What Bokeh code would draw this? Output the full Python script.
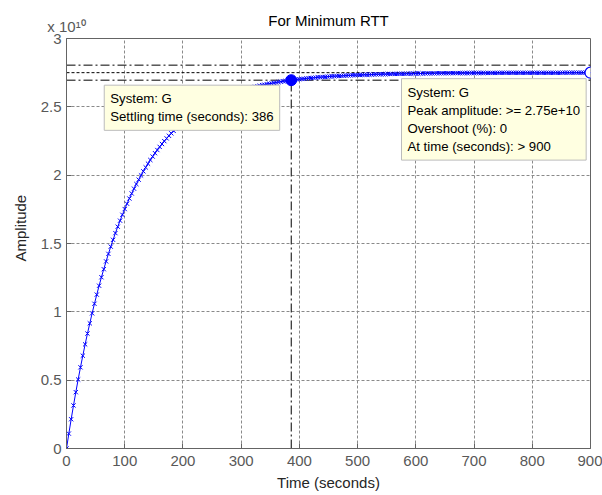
from bokeh.plotting import figure
from bokeh.models import (Range1d, FixedTicker, Span, Label, Title, LinearAxis,
                          CustomJSTickFormatter)
from bokeh.embed import file_html
from bokeh.resources import INLINE

# ---- data (amplitude in units of 1e10) ----
time_s = [
    0, 4, 8, 12, 16, 20, 24, 28, 32, 36, 40, 44, 48, 52, 56, 60, 64, 68, 72, 76,
    80, 84, 88, 92, 96, 100, 104, 108, 112, 116, 120, 124, 128, 132, 136, 140, 144, 148, 152, 156,
    160, 164, 168, 172, 176, 180, 184, 188, 192, 196, 200, 204, 208, 212, 216, 220, 224, 228, 232, 236,
    240, 244, 248, 252, 256, 260, 264, 268, 272, 276, 280, 284, 288, 292, 296, 300, 304, 308, 312, 316,
    320, 324, 328, 332, 336, 340, 344, 348, 352, 356, 360, 364, 368, 372, 376, 380, 384, 388, 392, 396,
    400, 404, 408, 412, 416, 420, 424, 428, 432, 436, 440, 444, 448, 452, 456, 460, 464, 468, 472, 476,
    480, 484, 488, 492, 496, 500, 504, 508, 512, 516, 520, 524, 528, 532, 536, 540, 544, 548, 552, 556,
    560, 564, 568, 572, 576, 580, 584, 588, 592, 596, 600, 604, 608, 612, 616, 620, 624, 628, 632, 636,
    640, 644, 648, 652, 656, 660, 664, 668, 672, 676, 680, 684, 688, 692, 696, 700, 704, 708, 712, 716,
    720, 724, 728, 732, 736, 740, 744, 748, 752, 756, 760, 764, 768, 772, 776, 780, 784, 788, 792, 796,
    800, 804, 808, 812, 816, 820, 824, 828, 832, 836, 840, 844, 848, 852, 856, 860, 864, 868, 872, 876,
    880, 884, 888, 892, 896, 900,
]
amplitude_e10 = [
    0.000, 0.109, 0.214, 0.315, 0.412, 0.505, 0.594, 0.679, 0.762, 0.841,
    0.916, 0.989, 1.059, 1.126, 1.191, 1.253, 1.312, 1.369, 1.424, 1.477,
    1.527, 1.576, 1.623, 1.667, 1.710, 1.752, 1.791, 1.829, 1.866, 1.901,
    1.935, 1.967, 1.998, 2.028, 2.057, 2.084, 2.111, 2.136, 2.161, 2.184,
    2.207, 2.228, 2.249, 2.269, 2.288, 2.306, 2.324, 2.341, 2.357, 2.373,
    2.388, 2.402, 2.416, 2.429, 2.442, 2.454, 2.466, 2.477, 2.488, 2.498,
    2.508, 2.518, 2.527, 2.536, 2.545, 2.553, 2.561, 2.568, 2.575, 2.582,
    2.589, 2.595, 2.601, 2.607, 2.613, 2.618, 2.624, 2.629, 2.634, 2.638,
    2.643, 2.647, 2.651, 2.655, 2.659, 2.662, 2.666, 2.669, 2.672, 2.675,
    2.678, 2.681, 2.684, 2.687, 2.689, 2.692, 2.694, 2.696, 2.698, 2.700,
    2.702, 2.704, 2.706, 2.708, 2.709, 2.711, 2.713, 2.714, 2.716, 2.717,
    2.718, 2.719, 2.721, 2.722, 2.723, 2.724, 2.725, 2.726, 2.727, 2.728,
    2.729, 2.730, 2.730, 2.731, 2.732, 2.733, 2.733, 2.734, 2.735, 2.735,
    2.736, 2.736, 2.737, 2.738, 2.738, 2.738, 2.739, 2.739, 2.740, 2.740,
    2.741, 2.741, 2.741, 2.742, 2.742, 2.742, 2.743, 2.743, 2.743, 2.743,
    2.744, 2.744, 2.744, 2.744, 2.745, 2.745, 2.745, 2.745, 2.745, 2.746,
    2.746, 2.746, 2.746, 2.746, 2.746, 2.747, 2.747, 2.747, 2.747, 2.747,
    2.747, 2.747, 2.747, 2.748, 2.748, 2.748, 2.748, 2.748, 2.748, 2.748,
    2.748, 2.748, 2.748, 2.748, 2.748, 2.749, 2.749, 2.749, 2.749, 2.749,
    2.749, 2.749, 2.749, 2.749, 2.749, 2.749, 2.749, 2.749, 2.749, 2.749,
    2.749, 2.749, 2.749, 2.749, 2.749, 2.749, 2.749, 2.749, 2.749, 2.749,
    2.749, 2.749, 2.749, 2.750, 2.750, 2.750, 2.750, 2.750, 2.750, 2.750,
    2.750, 2.750, 2.750, 2.750, 2.750, 2.750,
]
x_ticks = [0, 100, 200, 300, 400, 500, 600, 700, 800, 900]
y_ticks = [0, 0.5, 1, 1.5, 2, 2.5, 3]

title_text = "For Minimum RTT"
x_label = "Time (seconds)"
y_label = "Amplitude"
exponent_text = "x 10\u00b9\u2070"   # x 10^10

system_name = "G"
settling_time = 386
settling_amp = 2.695
final_value = 2.75
band_low = 2.695
band_high = 2.805
peak_time = 900
peak_amp = 2.75
overshoot_pct = 0

FONT = "Liberation Sans"
BLUE = "#0000ff"
AXIS_GRAY = "#646464"
LABEL_GRAY = "#585858"

p = figure(width=602, height=495, output_backend="svg", toolbar_location=None,
           x_range=Range1d(0, 900), y_range=Range1d(0, 3),
           min_border_left=66, min_border_right=12, min_border_top=38, min_border_bottom=47)
p.background_fill_color = "white"
p.border_fill_color = "white"
p.outline_line_color = AXIS_GRAY
p.outline_line_width = 1

p.xaxis.ticker = FixedTicker(ticks=x_ticks)
p.yaxis.ticker = FixedTicker(ticks=y_ticks)
p.yaxis.formatter = CustomJSTickFormatter(code="return String(tick);")
for ax in (p.xaxis, p.yaxis):
    ax.axis_line_color = AXIS_GRAY
    ax.major_tick_line_color = AXIS_GRAY
    ax.major_tick_in = 5
    ax.major_tick_out = 0
    ax.minor_tick_line_color = None
    ax.major_label_text_font = FONT
    ax.major_label_text_font_size = "15px"
    ax.major_label_text_color = LABEL_GRAY
    ax.axis_label_text_font = FONT
    ax.axis_label_text_font_size = "15px"
    ax.axis_label_text_font_style = "normal"
    ax.axis_label_text_color = "#262626"
p.xaxis.axis_label = x_label
p.xaxis.major_label_standoff = 7
p.xaxis.axis_label_standoff = 5
p.yaxis.major_label_standoff = 5

# top axis: carries the exponent (at the left end) and the title (as its axis label)
top = LinearAxis(ticker=FixedTicker(ticks=[p.x_range.start]),
                 major_label_overrides={p.x_range.start: exponent_text},
                 axis_line_color=None, major_tick_line_color=None,
                 minor_tick_line_color=None,
                 major_tick_in=0, major_tick_out=0,
                 major_label_standoff=4,
                 major_label_text_align="left",
                 major_label_text_baseline="alphabetic",
                 major_label_text_font=FONT, major_label_text_font_size="15px",
                 major_label_text_color=LABEL_GRAY,
                 axis_label=title_text, axis_label_standoff=-14,
                 axis_label_text_font=FONT, axis_label_text_font_size="15px",
                 axis_label_text_font_style="normal", axis_label_text_color="#000000")
p.add_layout(top, "above")

# y label as a side title so it can sit where the original has it
p.add_layout(Title(text=y_label, align="left", offset=187, standoff=18,
                   text_font=FONT, text_font_size="15px", text_font_style="normal",
                   text_color="#262626"), "left")

p.grid.grid_line_color = "#8a8a8a"
p.grid.grid_line_dash = "3 2"
p.grid.grid_line_width = 1

# settling band and steady-state lines
for loc, dash in ((band_high, "9 3 2 3"), (band_low, "9 3 2 3"), (final_value, "3 2")):
    p.add_layout(Span(location=loc, dimension="width", line_color="black",
                      line_dash=dash, line_width=1, level="underlay"))

# vertical settling-time line
p.line([settling_time, settling_time], [0, settling_amp], line_color="black",
       line_dash="9 3 2 3", line_width=1)

# step response
p.line(time_s, amplitude_e10, line_color=BLUE, line_width=1)
p.scatter(time_s, amplitude_e10, marker="x", size=6, line_color=BLUE, line_width=1)

# data-tip markers
p.scatter([settling_time], [settling_amp], marker="circle", size=11,
          fill_color=BLUE, line_color=BLUE)
p.scatter([peak_time], [peak_amp], marker="circle", size=11,
          fill_color="white", line_color=BLUE, line_width=1.2)

TIP_FILL = "#ffffe1"
TIP_BORDER = "#bcbcbc"
tip1 = "System: %s\nSettling time (seconds): %d" % (system_name, settling_time)
p.add_layout(Label(x=settling_time, y=settling_amp, text=tip1,
                   x_offset=-187, y_offset=-5, text_align="left", text_baseline="top",
                   text_font=FONT, text_font_size="13.2px", text_color="#000000",
                   text_line_height=1.21, background_fill_color=TIP_FILL,
                   border_line_color=TIP_BORDER, padding=6))
tip2 = ("System: %s\nPeak amplitude: >= %s\nOvershoot (%%): %d\nAt time (seconds): > %d"
        % (system_name, "%.3g" % (peak_amp * 1e10), overshoot_pct, peak_time))
p.add_layout(Label(x=peak_time, y=peak_amp, text=tip2,
                   x_offset=-189, y_offset=-6, text_align="left", text_baseline="top",
                   text_font=FONT, text_font_size="13.2px", text_color="#000000",
                   text_line_height=1.21, background_fill_color=TIP_FILL,
                   border_line_color=TIP_BORDER, padding=6))

open("out.html", "w").write(file_html(p, INLINE))
